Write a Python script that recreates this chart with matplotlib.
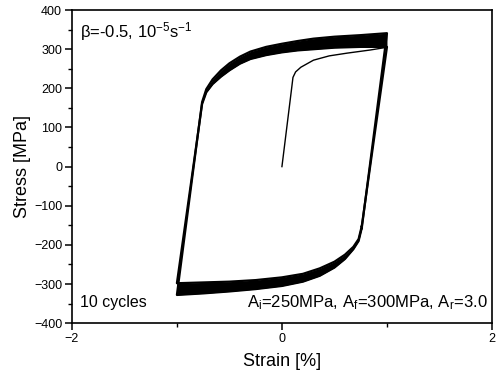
import matplotlib
matplotlib.use("Agg")
import matplotlib.pyplot as plt
from matplotlib.ticker import MultipleLocator

plt.rcParams["font.family"] = ["Liberation Sans", "DejaVu Sans"]
plt.rcParams["mathtext.default"] = "regular"

# initial monotonic loading from zero
init_strain = [0.0, 0.03, 0.06, 0.09, 0.105, 0.13, 0.18, 0.3, 0.45, 0.62, 0.84, 1.0]
init_stress = [0, 65, 130, 195, 228, 242, 254, 272, 283, 290, 298, 305]

# upper (tensile) branch, first and last (10th) cycle
upper_strain = [-0.76, -0.72, -0.66, -0.58, -0.50, -0.40, -0.30, -0.15, 0.0, 0.15, 0.30, 0.50, 0.75, 1.0]
upper_first = [160, 190, 211, 230, 246, 263, 275, 285, 292, 297, 300, 304, 306, 306]
upper_last = [165, 198, 223, 246, 264, 281, 294, 306, 314, 321, 327, 332, 336, 341]

# lower (compressive) branch, first and last cycle
lower_strain = [-1.0, -0.75, -0.5, -0.25, 0.0, 0.2, 0.36, 0.5, 0.6, 0.68, 0.73, 0.76]
lower_first = [-298, -296, -294, -290, -283, -274, -260, -243, -225, -205, -185, -152]
lower_last = [-328, -324, -319, -313, -305, -294, -279, -258, -236, -211, -190, -157]

fig = plt.figure(figsize=(4.99, 3.74), dpi=100)
ax = fig.add_axes([0.144, 0.136, 0.842, 0.837])

# hardening bands of the 10 cycles
ax.fill_between(upper_strain, upper_first, upper_last, color="black", linewidth=0)
ax.fill_between(lower_strain, lower_first, lower_last, color="black", linewidth=0)

for lower, upper in [(lower_first, upper_first), (lower_last, upper_last)]:
    loop_x = lower_strain[::-1] + upper_strain + [lower_strain[-1]]
    loop_y = lower[::-1] + upper + [lower[-1]]
    ax.plot(loop_x, loop_y, color="black", linewidth=1.6, solid_joinstyle="round")

ax.plot(init_strain, init_stress, color="black", linewidth=1.0)

ax.set_xlim(-2, 2)
ax.set_ylim(-400, 400)
ax.xaxis.set_major_locator(MultipleLocator(2))
ax.xaxis.set_minor_locator(MultipleLocator(1))
ax.yaxis.set_major_locator(MultipleLocator(100))
ax.yaxis.set_minor_locator(MultipleLocator(50))
ax.tick_params(which="major", direction="out", length=5, width=1.1, labelsize=9, pad=2)
ax.tick_params(which="minor", direction="out", length=3, width=1.0)
for side in ax.spines.values():
    side.set_linewidth(1.2)

ax.set_xlabel("Strain [%]", fontsize=13, labelpad=6)
ax.set_ylabel("Stress [MPa]", fontsize=13, labelpad=2)

ax.text(0.02, 0.93, "β=-0.5, 10$^{-5}$s$^{-1}$", transform=ax.transAxes,
        fontsize=12, ha="left", va="center")
ax.text(0.02, 0.065, "10 cycles", transform=ax.transAxes,
        fontsize=11.5, ha="left", va="center")
ax.text(0.99, 0.065, "A$_i$=250MPa, A$_f$=300MPa, A$_r$=3.0", transform=ax.transAxes,
        fontsize=12, ha="right", va="center")

fig.savefig("out.png", dpi=100)
